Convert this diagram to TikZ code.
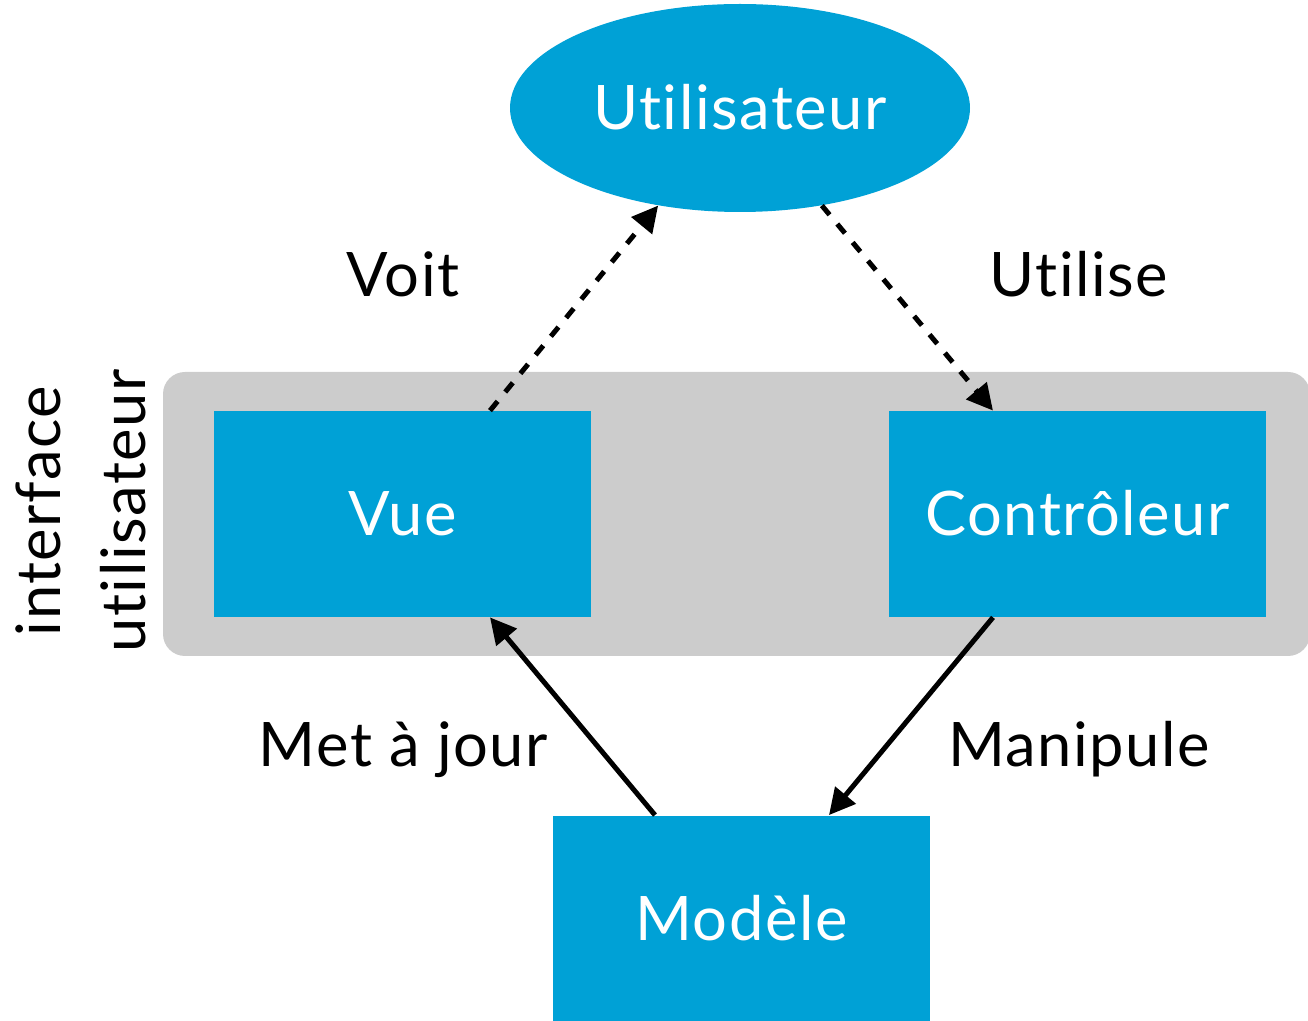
\documentclass[tikz,border=0pt]{standalone}
\usepackage{fontspec}
\setmainfont[Ligatures=NoCommon, LetterSpace=2.5]{Lato}
\usetikzlibrary{arrows.meta,shapes.geometric,calc}
\definecolor{mvcblue}{RGB}{0,161,214}
\definecolor{zonegray}{RGB}{204,204,204}
\tikzset{
  lbl/.style={font=\fontsize{30.7}{42.5}\selectfont, text=black},
  bluebox/.style={rectangle, fill=mvcblue, text=white, minimum width=188.5pt,
    minimum height=103pt, inner sep=0pt, text height=22pt, text depth=0pt,
    font=\fontsize{30.7}{42.5}\selectfont},
  userell/.style={ellipse, fill=mvcblue, text=white, minimum width=230pt,
    minimum height=104pt, inner sep=0pt, text height=22pt, text depth=0pt,
    font=\fontsize{30.7}{42.5}\selectfont},
  link/.style={line width=2.5pt, -{Triangle[length=13pt,width=13pt]}},
  dashlink/.style={link, dash pattern=on 6pt off 6pt},
}
\begin{document}
\begin{tikzpicture}[x=0.5pt, y=-0.5pt]
  \useasboundingbox (0,0) rectangle (1308,1021);

  % user-interface zone behind the view and the controller
  \node[rectangle, fill=zonegray, rounded corners=11pt, minimum width=573.5pt,
    minimum height=142pt, inner sep=0pt] (zone) at (736.5,514) {};

  % the four actors
  \node[userell] (user) at (740,108) {Utilisateur};
  \node[bluebox] (vue) at (402.5,514) {Vue};
  \node[bluebox] (ctrl) at (1077.5,514) {Contrôleur};
  \node[bluebox] (model) at (741.5,918.5) {Modèle};

  % zone caption, set vertically
  \node[lbl, rotate=90, align=center, inner sep=0pt] (zonecap) at (81,511)
    {interface\\utilisateur};

  % interactions
  \draw[dashlink] ([xshift=43.75pt]vue.north) -- (user.230.4);
  \draw[dashlink] (user.310) -- ([xshift=-42.25pt]ctrl.north);
  \draw[link] ([xshift=-43.25pt]model.north) -- ([xshift=43.75pt]vue.south);
  \draw[link] ([xshift=-42.25pt]ctrl.south) -- ([xshift=43.75pt]model.north);

  % edge labels
  \node[lbl, anchor=base] (voit) at (403,297) {Voit};
  \node[lbl, anchor=base] (utilise) at (1079,297) {Utilise};
  \node[lbl, anchor=base] (maj) at (403.5,767) {Met à jour};
  \node[lbl, anchor=base] (manip) at (1079,767) {Manipule};
\end{tikzpicture}
\end{document}
